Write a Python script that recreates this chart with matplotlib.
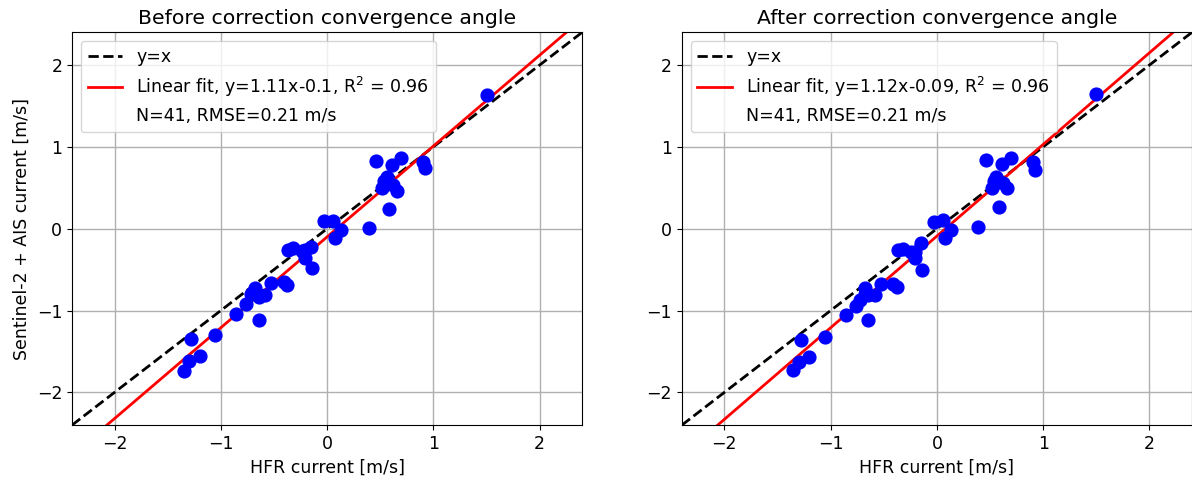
import numpy as np
import matplotlib
matplotlib.use("Agg")
import matplotlib.pyplot as plt
from matplotlib.lines import Line2D

# HFR current (x) shared by both panels
hfr = [1.50, 0.46, 0.70, 0.61, 0.90, 0.92, 0.56, 0.54, 0.52, 0.62, 0.66, 0.58,
       -0.03, 0.06, 0.075, 0.135, 0.39, -0.37, -0.32, -0.21, -0.15, -0.21, -0.145,
       -0.53, -0.41, -0.38, -0.68, -0.58, -0.645, -0.72, -0.76, -0.645, -0.86,
       -1.05, -1.28, -1.20, -1.30, -1.35, -0.68, -0.24, 0.55]

# Sentinel-2 + AIS current before correction
s2_before = [1.63, 0.83, 0.86, 0.78, 0.82, 0.74, 0.63, 0.58, 0.50, 0.53, 0.46, 0.24,
             0.10, 0.10, -0.11, -0.02, 0.01, -0.265, -0.24, -0.265, -0.22, -0.36, -0.48,
             -0.66, -0.65, -0.69, -0.73, -0.81, -0.835, -0.80, -0.925, -1.11, -1.04,
             -1.295, -1.35, -1.56, -1.62, -1.74, -0.78, -0.27, 0.55]

# Sentinel-2 + AIS current after correction
s2_after = [1.64, 0.84, 0.87, 0.79, 0.82, 0.72, 0.63, 0.58, 0.50, 0.56, 0.50, 0.26,
            0.085, 0.11, -0.11, -0.01, 0.016, -0.265, -0.245, -0.29, -0.18, -0.355, -0.51,
            -0.68, -0.67, -0.71, -0.72, -0.81, -0.815, -0.87, -0.94, -1.11, -1.05,
            -1.32, -1.36, -1.57, -1.63, -1.73, -0.80, -0.28, 0.56]

titles = ["Before correction convergence angle", "After correction convergence angle"]
slopes = [1.11, 1.12]
intercepts = [-0.1, -0.09]
fit_labels = ["Linear fit, y=1.11x-0.1, R$^2$ = 0.96", "Linear fit, y=1.12x-0.09, R$^2$ = 0.96"]
stat_labels = ["N=41, RMSE=0.21 m/s", "N=41, RMSE=0.21 m/s"]
ticks = [-2, -1, 0, 1, 2]
lim = 2.4

plt.rcParams['font.size'] = 12.5
fig = plt.figure(figsize=(11.92, 4.82), dpi=100)
ax1 = fig.add_axes([0.0604, 0.118, 0.428, 0.815])
ax2 = fig.add_axes([0.572, 0.118, 0.428, 0.815])

for i, (ax, ys) in enumerate(zip([ax1, ax2], [s2_before, s2_after])):
    ax.set_axisbelow(True)
    ax.grid(True, color='#b0b0b0', linewidth=1)
    xx = np.array([-lim, lim])
    ax.plot(xx, xx, 'k--', lw=2, label='y=x', zorder=2)
    ax.plot(xx, slopes[i] * xx + intercepts[i], color='red', lw=2, label=fit_labels[i], zorder=2)
    ax.scatter(hfr, ys, s=85, color='blue', zorder=3)
    ax.set_xlim(-lim, lim)
    ax.set_ylim(-lim, lim)
    ax.set_xticks(ticks)
    ax.set_yticks(ticks)
    ax.set_title(titles[i], fontsize=14.7)
    ax.set_xlabel("HFR current [m/s]")
    handles, labels = ax.get_legend_handles_labels()
    handles.append(Line2D([], [], linestyle='none'))
    labels.append(stat_labels[i])
    ax.legend(handles, labels, loc='upper left')

ax1.set_ylabel("Sentinel-2 + AIS current [m/s]")

fig.savefig("out.png", dpi=100)
